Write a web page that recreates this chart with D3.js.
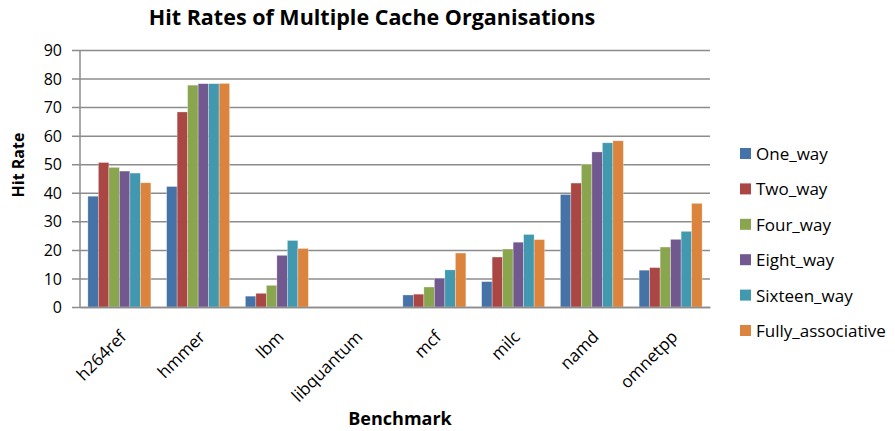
<!DOCTYPE html>
<html>
<head>
<meta charset="utf-8">
<script src="https://cdn.jsdelivr.net/npm/d3@7"></script>
<style>
  body { margin: 0; background: #fff; }
  text { font-family: "Open Sans", "Noto Sans", sans-serif; fill: #000; }
</style>
</head>
<body>
<div id="chart"></div>
<script>
// benchmarks and cache organisations
const benchmarks = ["h264ref", "hmmer", "lbm", "libquantum", "mcf", "milc", "namd", "omnetpp"];
const seriesNames = ["One_way", "Two_way", "Four_way", "Eight_way", "Sixteen_way", "Fully_associative"];
const seriesColors = ["#4572A7", "#AA4643", "#89A54E", "#71588F", "#4198AF", "#DB843D"];

// hit rates, one array per series (order of benchmarks)
const oneWay       = [38.8, 42.2, 3.8, 0, 4.2, 8.9, 39.4, 12.9];
const twoWay       = [50.6, 68.3, 4.8, 0, 4.5, 17.5, 43.4, 13.8];
const fourWay      = [48.9, 77.7, 7.6, 0, 7.0, 20.3, 50.0, 21.0];
const eightWay     = [47.6, 78.2, 18.1, 0, 10.1, 22.7, 54.3, 23.7];
const sixteenWay   = [46.9, 78.2, 23.3, 0, 13.0, 25.4, 57.5, 26.5];
const fullyAssoc   = [43.5, 78.3, 20.5, 0, 18.9, 23.6, 58.2, 36.3];
const seriesValues = [oneWay, twoWay, fourWay, eightWay, sixteenWay, fullyAssoc];

const yTicks = [0, 10, 20, 30, 40, 50, 60, 70, 80, 90];

const W = 895, H = 431;
const margin = {top: 50, left: 80, right: 185, bottom: 124};
const width = W - margin.left - margin.right;
const height = H - margin.top - margin.bottom;

const svg = d3.select("#chart").append("svg")
    .attr("width", W).attr("height", H);
const g = svg.append("g").attr("transform", `translate(${margin.left},${margin.top})`);

const x0 = d3.scaleBand().domain(benchmarks).range([0, width]).paddingInner(0.2).paddingOuter(0.1);
const x1 = d3.scaleBand().domain(seriesNames).range([0, x0.bandwidth()]);
const y = d3.scaleLinear().domain([0, 90]).range([height, 0]);

//gridlines with small outside ticks
g.append("g")
    .call(d3.axisLeft(y).tickValues(yTicks).tickSize(-width).tickSizeOuter(0).tickPadding(18))
    .call(ax => ax.select(".domain").remove())
    .call(ax => ax.selectAll("line").attr("stroke", "#8c8c8c").attr("stroke-width", 1.5).attr("x1", -8))
    .call(ax => ax.selectAll("text").style("font-size", "16px").attr("dy", "0.35em"));

//y axis line
g.append("line").attr("x1", 0).attr("x2", 0).attr("y1", 0).attr("y2", height)
    .attr("stroke", "#8c8c8c").attr("stroke-width", 1.5);

//bars
const groups = g.selectAll(".grp").data(benchmarks).enter().append("g")
    .attr("transform", d => `translate(${x0(d)},0)`);
groups.selectAll("rect")
    .data((b, i) => seriesNames.map((s, j) => ({s, v: seriesValues[j][i], c: seriesColors[j]})))
    .enter().append("rect")
    .attr("x", d => x1(d.s))
    .attr("y", d => y(d.v))
    .attr("width", x1.bandwidth())
    .attr("height", d => height - y(d.v))
    .attr("fill", d => d.c)
    .attr("stroke", "#fff").attr("stroke-width", 0.6).attr("stroke-opacity", 0.5);

//x axis, labels rotated so they end under the group centre
const xAxis = g.append("g").attr("transform", `translate(0,${height})`)
    .call(d3.axisBottom(x0).tickSize(0));
xAxis.select(".domain").attr("stroke", "#8c8c8c").attr("stroke-width", 1.5);
xAxis.selectAll("text")
    .style("font-size", "17px")
    .style("text-anchor", "end")
    .attr("x", 0).attr("y", 0).attr("dy", "0")
    .attr("transform", "translate(8,31) rotate(-45)");

//titles
svg.append("text").attr("x", 372).attr("y", 25).attr("text-anchor", "middle")
    .style("font-size", "21.5px").style("font-weight", "bold")
    .text("Hit Rates of Multiple Cache Organisations");
svg.append("text").attr("transform", "translate(24,165) rotate(-90)").attr("text-anchor", "middle")
    .style("font-size", "16px").style("font-weight", "bold").text("Hit Rate");
svg.append("text").attr("x", 400).attr("y", 425).attr("text-anchor", "middle")
    .style("font-size", "18px").style("font-weight", "bold").text("Benchmark");

//legend
const legend = svg.append("g").attr("transform", "translate(740,148)");
seriesNames.forEach((s, i) => {
    const row = legend.append("g").attr("transform", `translate(0,${i * 35.4})`);
    row.append("rect").attr("width", 11).attr("height", 11).attr("fill", seriesColors[i]);
    row.append("text").attr("x", 16).attr("y", 6).attr("dy", "0.35em")
        .style("font-size", "17px").text(s);
});
</script>
</body>
</html>
